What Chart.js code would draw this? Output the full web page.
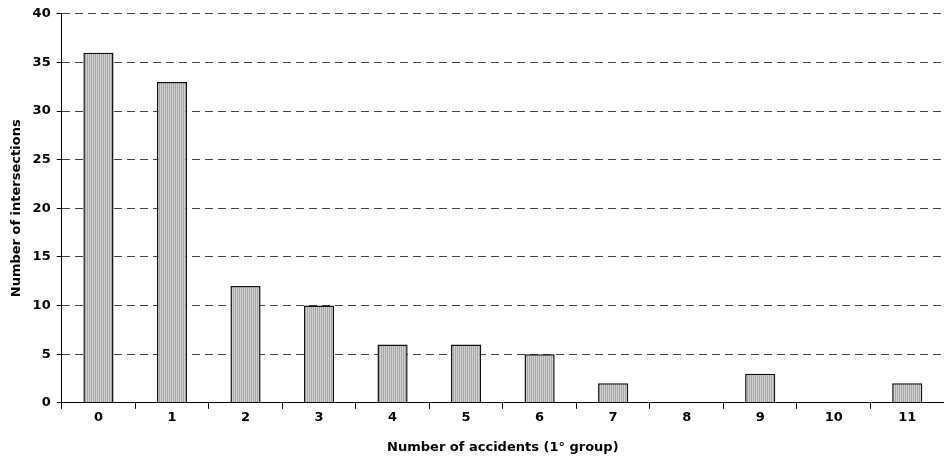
<!DOCTYPE html>
<html>
<head>
<meta charset="utf-8">
<script src="https://cdn.jsdelivr.net/npm/chart.js@4/dist/chart.umd.min.js"></script>
<style>
  html, body { margin: 0; padding: 0; background: #fff; }
  #wrap { width: 944px; height: 461px; }
</style>
</head>
<body>
<div id="wrap"><canvas id="chart" width="944" height="461"></canvas></div>
<script>
// data
const accidents = ['0','1','2','3','4','5','6','7','8','9','10','11'];
const intersections = [36, 33, 12, 10, 6, 6, 5, 2, 0, 3, 0, 2];
const yMax = 40;
const yStep = 5;

// vertical stripe fill like the original bars
function stripes() {
    const c = document.createElement('canvas');
    c.width = 2; c.height = 1;
    const g = c.getContext('2d');
    g.fillStyle = '#d2d2d2'; g.fillRect(0, 0, 1, 1);
    g.fillStyle = '#a6a6a6'; g.fillRect(1, 0, 1, 1);
    return g.createPattern(c, 'repeat');
}

const family = 'DejaVu Sans, sans-serif';
const tickFont = { family: family, weight: 'bold', size: 13 };
const titleFont = { family: family, weight: 'bold', size: 13 };

const ctx = document.getElementById('chart').getContext('2d');
const chart = new Chart(ctx, {
    type: 'bar',
    data: {
        labels: accidents,
        datasets: [{
            data: intersections,
            backgroundColor: stripes(),
            borderColor: '#111',
            borderWidth: 1.5,
            barPercentage: 0.41,
            categoryPercentage: 1
        }]
    },
    options: {
        responsive: false,
        animation: false,
        layout: { padding: { top: 7, right: 0, left: 5, bottom: 0 } },
        plugins: { legend: { display: false }, tooltip: { enabled: false } },
        scales: {
            x: {
                offset: true,
                grid: { offset: true, drawOnChartArea: false, drawTicks: true, tickLength: 6, color: '#000' },
                border: { color: '#000', width: 1 },
                ticks: { color: '#000', font: tickFont, padding: 1, maxRotation: 0 },
                title: { display: true, text: 'Number of accidents (1° group)', color: '#000',
                         font: titleFont, padding: { top: 13, bottom: 6 } }
            },
            y: {
                min: 0, max: yMax,
                grid: {
                    color: c => c.tick && c.tick.value === 0 ? 'rgba(0,0,0,0)' : '#444',
                    lineWidth: 1, tickLength: 5, tickColor: '#000'
                },
                border: { color: '#000', width: 1, dash: [8, 5] },
                ticks: { stepSize: yStep, color: '#000', font: tickFont, padding: 6 },
                title: { display: true, text: 'Number of intersections', color: '#000',
                         font: titleFont, padding: { bottom: 2 } }
            }
        }
    }
});
</script>
</body>
</html>
